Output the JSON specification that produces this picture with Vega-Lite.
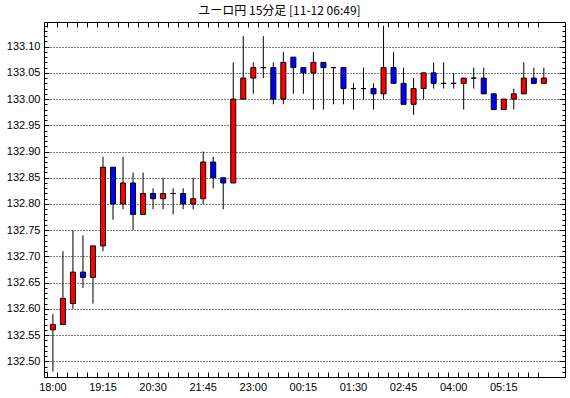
{
  "$schema": "https://vega.github.io/schema/vega-lite/v6.json",
  "width": 521,
  "height": 355,
  "autosize": {"type": "none"},
  "padding": {"left": 44, "top": 22, "right": 5, "bottom": 21},
  "background": "#ffffff",
  "title": {
    "text": "ユーロ円 15分足 [11-12 06:49]",
    "font": "Noto Sans CJK JP",
    "fontSize": 12,
    "fontWeight": "normal",
    "color": "#000000",
    "anchor": "middle",
    "baseline": "bottom",
    "offset": -10,
    "dx": -25
  },
  "data": {
    "values": [
      {"t": "18:00", "o": 132.56, "h": 132.59, "l": 132.48, "c": 132.57},
      {"t": "18:15", "o": 132.57, "h": 132.71, "l": 132.57, "c": 132.62},
      {"t": "18:30", "o": 132.61, "h": 132.75, "l": 132.60, "c": 132.67},
      {"t": "18:45", "o": 132.67, "h": 132.74, "l": 132.64, "c": 132.66},
      {"t": "19:00", "o": 132.66, "h": 132.72, "l": 132.61, "c": 132.72},
      {"t": "19:15", "o": 132.72, "h": 132.89, "l": 132.71, "c": 132.87},
      {"t": "19:30", "o": 132.87, "h": 132.87, "l": 132.77, "c": 132.80},
      {"t": "19:45", "o": 132.80, "h": 132.89, "l": 132.79, "c": 132.84},
      {"t": "20:00", "o": 132.84, "h": 132.86, "l": 132.75, "c": 132.78},
      {"t": "20:15", "o": 132.78, "h": 132.86, "l": 132.78, "c": 132.82},
      {"t": "20:30", "o": 132.82, "h": 132.83, "l": 132.79, "c": 132.81},
      {"t": "20:45", "o": 132.81, "h": 132.85, "l": 132.79, "c": 132.82},
      {"t": "21:00", "o": 132.82, "h": 132.83, "l": 132.78, "c": 132.82},
      {"t": "21:15", "o": 132.82, "h": 132.83, "l": 132.79, "c": 132.80},
      {"t": "21:30", "o": 132.80, "h": 132.85, "l": 132.79, "c": 132.81},
      {"t": "21:45", "o": 132.81, "h": 132.90, "l": 132.80, "c": 132.88},
      {"t": "22:00", "o": 132.88, "h": 132.89, "l": 132.83, "c": 132.85},
      {"t": "22:15", "o": 132.85, "h": 132.85, "l": 132.79, "c": 132.84},
      {"t": "22:30", "o": 132.84, "h": 133.07, "l": 132.84, "c": 133.00},
      {"t": "22:45", "o": 133.00, "h": 133.12, "l": 133.00, "c": 133.04},
      {"t": "23:00", "o": 133.04, "h": 133.07, "l": 133.01, "c": 133.06},
      {"t": "23:15", "o": 133.06, "h": 133.12, "l": 133.04, "c": 133.06},
      {"t": "23:30", "o": 133.06, "h": 133.07, "l": 132.99, "c": 133.00},
      {"t": "23:45", "o": 133.00, "h": 133.09, "l": 132.99, "c": 133.07},
      {"t": "00:00", "o": 133.08, "h": 133.08, "l": 133.01, "c": 133.06},
      {"t": "00:15", "o": 133.06, "h": 133.06, "l": 133.01, "c": 133.05},
      {"t": "00:30", "o": 133.05, "h": 133.09, "l": 132.98, "c": 133.07},
      {"t": "00:45", "o": 133.07, "h": 133.07, "l": 132.98, "c": 133.06},
      {"t": "01:00", "o": 133.06, "h": 133.06, "l": 132.99, "c": 133.06},
      {"t": "01:15", "o": 133.06, "h": 133.06, "l": 132.99, "c": 133.02},
      {"t": "01:30", "o": 133.02, "h": 133.03, "l": 132.98, "c": 133.02},
      {"t": "01:45", "o": 133.02, "h": 133.06, "l": 133.00, "c": 133.02},
      {"t": "02:00", "o": 133.02, "h": 133.03, "l": 132.98, "c": 133.01},
      {"t": "02:15", "o": 133.01, "h": 133.14, "l": 133.00, "c": 133.06},
      {"t": "02:30", "o": 133.06, "h": 133.09, "l": 133.03, "c": 133.03},
      {"t": "02:45", "o": 133.03, "h": 133.06, "l": 132.99, "c": 132.99},
      {"t": "03:00", "o": 132.99, "h": 133.04, "l": 132.97, "c": 133.02},
      {"t": "03:15", "o": 133.02, "h": 133.05, "l": 133.00, "c": 133.05},
      {"t": "03:30", "o": 133.05, "h": 133.07, "l": 133.02, "c": 133.03},
      {"t": "03:45", "o": 133.03, "h": 133.07, "l": 133.02, "c": 133.03},
      {"t": "04:00", "o": 133.03, "h": 133.05, "l": 133.02, "c": 133.03},
      {"t": "04:15", "o": 133.03, "h": 133.04, "l": 132.98, "c": 133.04},
      {"t": "04:30", "o": 133.04, "h": 133.06, "l": 133.02, "c": 133.04},
      {"t": "04:45", "o": 133.04, "h": 133.06, "l": 133.01, "c": 133.01},
      {"t": "05:00", "o": 133.01, "h": 133.01, "l": 132.98, "c": 132.98},
      {"t": "05:15", "o": 132.98, "h": 133.00, "l": 132.98, "c": 133.00},
      {"t": "05:30", "o": 133.00, "h": 133.02, "l": 132.98, "c": 133.01},
      {"t": "05:45", "o": 133.01, "h": 133.07, "l": 133.01, "c": 133.04},
      {"t": "06:00", "o": 133.04, "h": 133.06, "l": 133.03, "c": 133.03},
      {"t": "06:15", "o": 133.03, "h": 133.06, "l": 133.03, "c": 133.04}
    ]
  },
  "layer": [
    {
      "mark": {"type": "rule", "color": "#000000", "strokeWidth": 1},
      "encoding": {
        "x": {
          "field": "t", "type": "ordinal", "sort": null,
          "scale": {"type": "band", "paddingInner": 0, "paddingOuter": 1.525, "align": 0.194},
          "axis": {
            "orient": "bottom", "title": null, "bandPosition": 0,
            "tickSize": -5, "labelPadding": 9, "labelAngle": 0,
            "labelExpr": "((parseInt(substring(datum.value,0,2))*60 + parseInt(substring(datum.value,3,5)) + 360) % 1440) % 75 == 0 ? datum.value : ''",
            "grid": false, "domain": false
          }
        },
        "y": {
          "field": "l", "type": "quantitative",
          "scale": {"domain": [132.47, 133.147], "nice": false, "zero": false},
          "axis": {
            "orient": "left", "title": null, "domain": false,
            "values": [132.47,132.48,132.49,132.50,132.51,132.52,132.53,132.54,132.55,132.56,132.57,132.58,132.59,132.60,132.61,132.62,132.63,132.64,132.65,132.66,132.67,132.68,132.69,132.70,132.71,132.72,132.73,132.74,132.75,132.76,132.77,132.78,132.79,132.80,132.81,132.82,132.83,132.84,132.85,132.86,132.87,132.88,132.89,132.90,132.91,132.92,132.93,132.94,132.95,132.96,132.97,132.98,132.99,133.00,133.01,133.02,133.03,133.04,133.05,133.06,133.07,133.08,133.09,133.10,133.11,133.12,133.13,133.14],
            "labelExpr": "abs(datum.value*20 - round(datum.value*20)) < 0.01 ? format(datum.value, '.2f') : ''",
            "tickSize": {"condition": {"test": "abs(datum.value*20 - round(datum.value*20)) < 0.01", "value": -5}, "value": -3},
            "labelPadding": 9,
            "grid": true,
            "gridColor": "#000000",
            "gridDash": [1, 2],
            "gridWidth": 1,
            "gridOpacity": {"condition": {"test": "abs(datum.value*20 - round(datum.value*20)) < 0.01", "value": 1}, "value": 0}
          }
        },
        "y2": {"field": "h"}
      }
    },
    {
      "mark": {"type": "bar", "size": 5, "stroke": "#000000", "strokeWidth": 1},
      "encoding": {
        "x": {
          "field": "t", "type": "ordinal", "sort": null,
          "axis": {"orient": "top", "title": null, "bandPosition": 0, "tickSize": -5, "labels": false, "grid": false, "domain": false}
        },
        "y": {
          "field": "o", "type": "quantitative",
          "axis": {
            "orient": "right", "title": null, "domain": false, "labels": false, "grid": false,
            "values": [132.47,132.48,132.49,132.50,132.51,132.52,132.53,132.54,132.55,132.56,132.57,132.58,132.59,132.60,132.61,132.62,132.63,132.64,132.65,132.66,132.67,132.68,132.69,132.70,132.71,132.72,132.73,132.74,132.75,132.76,132.77,132.78,132.79,132.80,132.81,132.82,132.83,132.84,132.85,132.86,132.87,132.88,132.89,132.90,132.91,132.92,132.93,132.94,132.95,132.96,132.97,132.98,132.99,133.00,133.01,133.02,133.03,133.04,133.05,133.06,133.07,133.08,133.09,133.10,133.11,133.12,133.13,133.14],
            "tickSize": {"condition": {"test": "abs(datum.value*20 - round(datum.value*20)) < 0.01", "value": -6}, "value": -3}
          }
        },
        "y2": {"field": "c"},
        "fill": {
          "condition": {"test": "datum.c > datum.o", "value": "#ff0000"},
          "value": "#0000ff"
        }
      }
    }
  ],
  "resolve": {"axis": {"x": "independent", "y": "independent"}},
  "config": {
    "view": {"stroke": "#000000", "strokeWidth": 1},
    "axis": {
      "labelFont": "Liberation Sans",
      "labelFontSize": 11,
      "labelColor": "#000000",
      "tickColor": "#000000",
      "tickWidth": 1,
      "labelOverlap": false,
      "labelFlush": false
    }
  }
}
